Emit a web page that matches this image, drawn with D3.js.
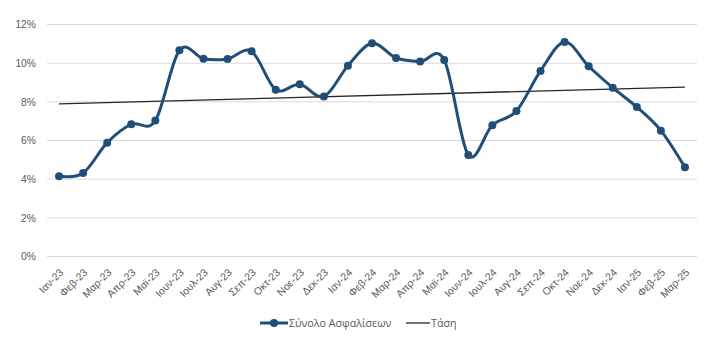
<!DOCTYPE html>
<html>
<head>
<meta charset="utf-8">
<script src="https://cdn.jsdelivr.net/npm/d3@7"></script>
<style>
  body { margin: 0; background: #fff; }
  svg { font-family: "Open Sans", sans-serif; }
</style>
</head>
<body>
<script>
const months = ["Ιαν-23","Φεβ-23","Μαρ-23","Απρ-23","Μαϊ-23","Ιουν-23","Ιουλ-23","Αυγ-23","Σεπ-23","Οκτ-23","Νοε-23","Δεκ-23",
                "Ιαν-24","Φεβ-24","Μαρ-24","Απρ-24","Μαϊ-24","Ιουν-24","Ιουλ-24","Αυγ-24","Σεπ-24","Οκτ-24","Νοε-24","Δεκ-24",
                "Ιαν-25","Φεβ-25","Μαρ-25"];
const values = [4.15, 4.32, 5.89, 6.84, 7.03, 10.67, 10.23, 10.22, 10.61, 8.63, 8.91, 8.27,
                9.87, 11.03, 10.27, 10.08, 10.17, 5.25, 6.79, 7.53, 9.60, 11.10, 9.84, 8.73,
                7.73, 6.51, 4.61];
const yTicks = [0, 2, 4, 6, 8, 10, 12];
const seriesName = "Σύνολο Ασφαλίσεων";
const trendName = "Τάση";

const W = 711, H = 344;
const margin = {top: 24.5, right: 14, bottom: 87.5, left: 47};
const width = W - margin.left - margin.right;
const height = H - margin.top - margin.bottom;

const svg = d3.select("body").append("svg")
   .attr("width", W)
   .attr("height", H);
const g = svg.append("g")
   .attr("transform", "translate(" + margin.left + "," + margin.top + ")");

const x = d3.scalePoint()
   .domain(months)
   .range([0, width])
   .padding(0.5);
const y = d3.scaleLinear()
   .domain([0, 12])
   .range([height, 0]);

// gridlines
g.append("g")
   .selectAll("line")
   .data(yTicks)
   .enter()
   .append("line")
   .attr("x1", 0).attr("x2", width)
   .attr("y1", d => y(d)).attr("y2", d => y(d))
   .attr("stroke", "#d9d9d9")
   .attr("stroke-width", 1);

// y axis labels
const yAxis = g.append("g")
   .call(d3.axisLeft(y).tickValues(yTicks).tickFormat(d => d + "%").tickSize(0).tickPadding(11));
yAxis.select(".domain").remove();
yAxis.selectAll("text").attr("fill", "#595959").style("font-size", "10.3px");

// x axis labels
const xAxis = g.append("g")
   .attr("transform", "translate(0," + height + ")")
   .call(d3.axisBottom(x).tickSize(0).tickPadding(0));
xAxis.select(".domain").remove();
xAxis.selectAll("text")
   .attr("fill", "#595959")
   .style("font-size", "10.5px")
   .attr("text-anchor", "end")
   .attr("y", 0)
   .attr("dy", "0.35em")
   .attr("transform", "translate(2,14) rotate(-45)");

// linear trend
const n = values.length;
const xs = d3.range(n);
const mx = d3.mean(xs), my = d3.mean(values);
const slope = d3.sum(xs, i => (i - mx) * (values[i] - my)) / d3.sum(xs, i => (i - mx) * (i - mx));
const icpt = my - slope * mx;
g.append("line")
   .attr("x1", x(months[0])).attr("x2", x(months[n - 1]))
   .attr("y1", y(icpt)).attr("y2", y(icpt + slope * (n - 1)))
   .attr("stroke", "#262626")
   .attr("stroke-width", 1.3);

// series line
const line = d3.line()
   .x((d, i) => x(months[i]))
   .y(d => y(d))
   .curve(d3.curveCardinal.tension(0));
const blue = "#1f4e79";
g.append("path")
   .datum(values)
   .attr("fill", "none")
   .attr("stroke", blue)
   .attr("stroke-width", 3)
   .attr("stroke-linejoin", "round")
   .attr("d", line);

g.selectAll("circle")
   .data(values)
   .enter()
   .append("circle")
   .attr("cx", (d, i) => x(months[i]))
   .attr("cy", d => y(d))
   .attr("r", 4)
   .attr("fill", blue);

// legend
const lg = svg.append("g").attr("transform", "translate(0,323)");
lg.append("line").attr("x1", 260).attr("x2", 288).attr("y1", 0).attr("y2", 0)
   .attr("stroke", blue).attr("stroke-width", 3);
lg.append("circle").attr("cx", 274).attr("cy", 0).attr("r", 4).attr("fill", blue);
lg.append("text").attr("x", 289).attr("y", 0).attr("dy", "0.35em")
   .attr("fill", "#595959").style("font-size", "10.7px").text(seriesName);
lg.append("line").attr("x1", 406).attr("x2", 430).attr("y1", 0).attr("y2", 0)
   .attr("stroke", "#262626").attr("stroke-width", 1.3);
lg.append("text").attr("x", 431).attr("y", 0).attr("dy", "0.35em")
   .attr("fill", "#595959").style("font-size", "10.7px").text(trendName);
</script>
</body>
</html>
